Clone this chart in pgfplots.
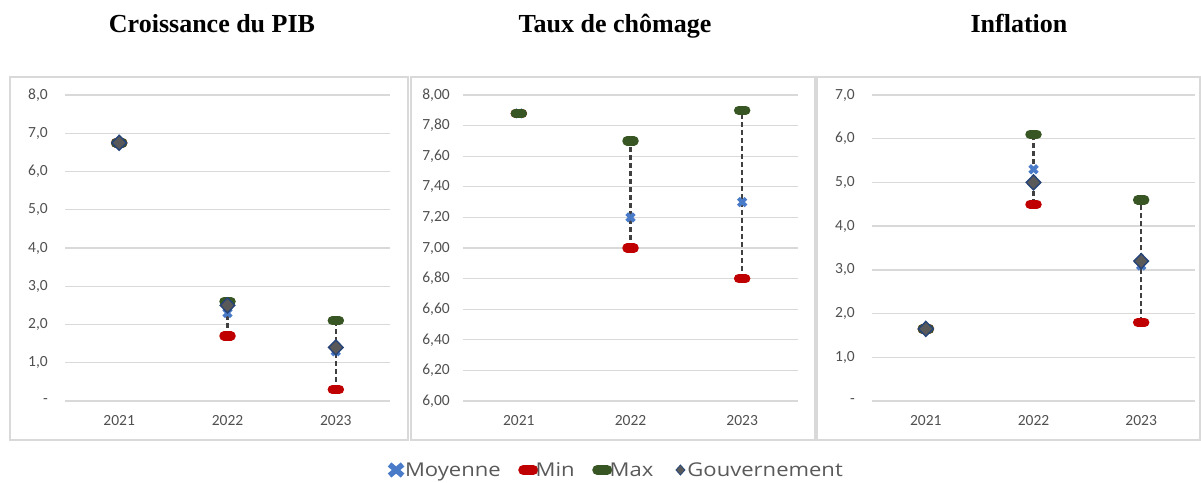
\documentclass[border=0pt]{standalone}
\usepackage{pgfplots}
\pgfplotsset{compat=1.18}
\usepackage{pgfplotstable}
\usepackage{fontspec}
\setmainfont{Carlito}
\newfontfamily\titlefont{Liberation Serif}
\newfontfamily\legfont[FakeStretch=1.16]{Open Sans}

\definecolor{moy}{HTML}{4A7BC8}
\definecolor{minc}{HTML}{C00000}
\definecolor{maxc}{HTML}{375623}
\definecolor{gouvf}{HTML}{595959}
\definecolor{gouvd}{HTML}{264478}
\definecolor{gridc}{HTML}{D9D9D9}
\definecolor{txt}{HTML}{505050}
\definecolor{legtxt}{HTML}{595959}
\definecolor{dashc}{HTML}{404040}

\pgfdeclareplotmark{pill}{%
  \pgfsetroundcap\pgfsetlinewidth{9.5pt}%
  \pgfpathmoveto{\pgfqpoint{-3.5pt}{0pt}}%
  \pgfpathlineto{\pgfqpoint{3.5pt}{0pt}}%
  \pgfusepathqstroke}
\pgfdeclareplotmark{pillL}{%
  \pgfsetroundcap\pgfsetlinewidth{10pt}%
  \pgfpathmoveto{\pgfqpoint{-5pt}{0pt}}%
  \pgfpathlineto{\pgfqpoint{5pt}{0pt}}%
  \pgfusepathqstroke}
\pgfdeclareplotmark{fatx}{%
  \pgfsetbuttcap\pgfsetlinewidth{3.8pt}%
  \pgfpathmoveto{\pgfqpoint{-3.8pt}{-3.8pt}}\pgfpathlineto{\pgfqpoint{3.8pt}{3.8pt}}%
  \pgfpathmoveto{\pgfqpoint{-3.8pt}{3.8pt}}\pgfpathlineto{\pgfqpoint{3.8pt}{-3.8pt}}%
  \pgfusepathqstroke}
\pgfdeclareplotmark{fatxL}{%
  \pgfsetbuttcap\pgfsetlinewidth{5.5pt}%
  \pgfpathmoveto{\pgfqpoint{-6.5pt}{-5.5pt}}\pgfpathlineto{\pgfqpoint{6.5pt}{5.5pt}}%
  \pgfpathmoveto{\pgfqpoint{-6.5pt}{5.5pt}}\pgfpathlineto{\pgfqpoint{6.5pt}{-5.5pt}}%
  \pgfusepathqstroke}

\pgfplotstableread{
x moy min max gouv
0 6.75 6.75 6.75 6.75
1 2.3 1.7 2.6 2.5
2 1.3 0.3 2.1 1.4
}\pib
\pgfplotstableread{
x moy min max
0 7.88 7.88 7.88
1 7.2 7.0 7.7
2 7.3 6.8 7.9
}\chom
\pgfplotstableread{
x moy min max gouv
0 1.65 1.65 1.65 1.65
1 5.3 4.5 6.1 5.0
2 3.1 1.8 4.6 3.2
}\infl

\pgfplotsset{
  panel/.style={scale only axis, height=306pt, xmin=-0.5, xmax=2.5,
    xtick={0,1,2}, xticklabels={2021,2022,2023},
    axis line style={draw=none}, major tick length=0pt,
    ymajorgrids, grid style={draw=gridc, line width=1.3pt},
    tick label style={font=\fontsize{15.5}{15.5}\selectfont, text=txt},
    yticklabel style={anchor=east, inner sep=0pt, xshift=-17pt},
    xticklabel style={anchor=north, inner sep=0pt, yshift=-14pt},
    clip=false},
  moys/.style={only marks, mark=fatx, mark options={draw=moy, solid}},
  mins/.style={only marks, mark=pill, mark options={draw=minc, solid}},
  maxs/.style={only marks, mark=pill, mark options={draw=maxc, solid}},
  gouvs/.style={only marks, mark=diamond*, mark size=7.5pt, mark options={fill=gouvf, draw=gouvd, line width=1.4pt, xscale=1.3, solid}},
  dashs/.style={draw=dashc, line width=2.2pt, dash pattern=on 5pt off 3pt, forget plot, no marks},
  legimg/.style={legend image code/.code={\draw[##1] plot coordinates {(0pt,0pt)};}},
}

\begin{document}
\begin{tikzpicture}
\path[use as bounding box] (0pt,0pt) rectangle (1201pt,482pt);
% frames
\draw[gridc, line width=1.2pt] (10pt,42pt) rectangle (408pt,405pt);
\draw[gridc, line width=1.2pt] (411pt,42pt) rectangle (815pt,405pt);
\draw[gridc, line width=1.2pt] (817pt,42pt) rectangle (1200pt,405pt);
% titles
\node[font=\titlefont\bfseries\fontsize{26}{26}\selectfont, anchor=base] at (212pt,449pt) {Croissance du PIB};
\node[font=\titlefont\bfseries\fontsize{26}{26}\selectfont, anchor=base] at (615pt,449pt) {Taux de chômage};
\node[font=\titlefont\bfseries\fontsize{26}{26}\selectfont, anchor=base] at (1019pt,449pt) {Inflation};

% Panel 1
\begin{axis}[panel, at={(65pt,81pt)}, anchor=south west, width=325pt,
  ymin=0, ymax=8, ytick={0,1,...,8},
  yticklabels={{-\hspace{8pt}},{1,0},{2,0},{3,0},{4,0},{5,0},{6,0},{7,0},{8,0}}]
\addplot[dashs] coordinates {(1,1.7) (1,2.6)};
\addplot[dashs] coordinates {(2,0.3) (2,2.1)};
\addplot[moys] table[x=x,y=moy]{\pib};
\addplot[mins] table[x=x,y=min]{\pib};
\addplot[maxs] table[x=x,y=max]{\pib};
\addplot[gouvs] table[x=x,y=gouv]{\pib};
\end{axis}

% Panel 2
\begin{axis}[panel, at={(463pt,81pt)}, anchor=south west, width=335pt,
  ymin=6, ymax=8, ytick={6,6.2,6.4,6.6,6.8,7,7.2,7.4,7.6,7.8,8},
  yticklabels={{6,00},{6,20},{6,40},{6,60},{6,80},{7,00},{7,20},{7,40},{7,60},{7,80},{8,00}},
  yticklabel style={xshift=4pt},
  legend style={at={(axis description cs:0.461,-0.2255)}, anchor=center, draw=none, fill=none,
    legend columns=4, font=\legfont\fontsize{19}{21}\selectfont, text=legtxt,
    nodes={inner xsep=2.5pt, inner ysep=1pt},
    /tikz/every even column/.append style={column sep=20pt}},
  legend cell align=left]
\addplot[dashs] coordinates {(1,7.0) (1,7.7)};
\addplot[dashs] coordinates {(2,6.8) (2,7.9)};
\addplot[moys, forget plot] table[x=x,y=moy]{\chom};
\addplot[mins, forget plot] table[x=x,y=min]{\chom};
\addplot[maxs, forget plot] table[x=x,y=max]{\chom};
\addlegendimage{only marks, mark=fatxL, mark options={draw=moy, solid}, legimg}
\addlegendentry{Moyenne}
\addlegendimage{only marks, mark=pillL, mark options={draw=minc, solid}, legimg}
\addlegendentry{Min}
\addlegendimage{only marks, mark=pillL, mark options={draw=maxc, solid}, legimg}
\addlegendentry{Max}
\addlegendimage{only marks, mark=diamond*, mark size=5pt, mark options={fill=gouvf, draw=gouvd, line width=0.8pt, xscale=1.2, solid}, legimg}
\addlegendentry{Gouvernement}
\end{axis}

% Panel 3
\begin{axis}[panel, at={(872pt,81pt)}, anchor=south west, width=323pt,
  ymin=0, ymax=7, ytick={0,1,...,7},
  yticklabels={{-\hspace{9pt}},{1,0},{2,0},{3,0},{4,0},{5,0},{6,0},{7,0}}]
\addplot[dashs] coordinates {(1,4.5) (1,6.1)};
\addplot[dashs] coordinates {(2,1.8) (2,4.6)};
\addplot[moys] table[x=x,y=moy]{\infl};
\addplot[mins] table[x=x,y=min]{\infl};
\addplot[maxs] table[x=x,y=max]{\infl};
\addplot[gouvs] table[x=x,y=gouv]{\infl};
\end{axis}
\end{tikzpicture}
\end{document}
